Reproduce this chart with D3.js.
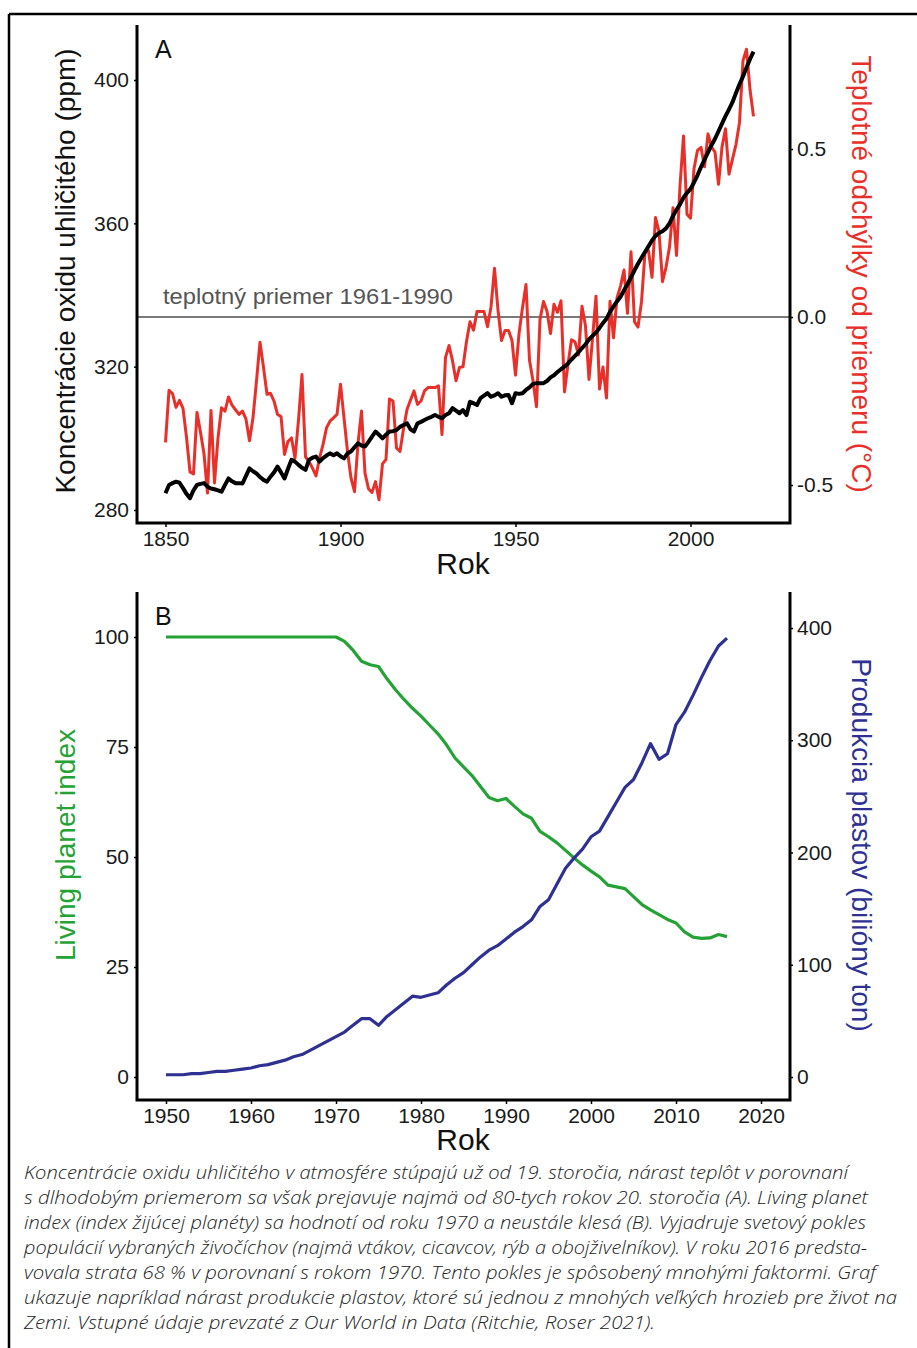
<!DOCTYPE html>
<html><head><meta charset="utf-8">
<script src="https://cdn.jsdelivr.net/npm/d3@7"></script>
<style>body{margin:0;background:#fff}svg{display:block}</style>
</head><body>
<svg id="c" width="917" height="1348"></svg>
<script>
// ---------- DATA ----------
const tempStartYear = 1850;
const tempAnomaly = [
-0.373,-0.218,-0.228,-0.269,-0.248,-0.272,-0.358,-0.461,-0.467,-0.284,
-0.343,-0.407,-0.524,-0.278,-0.494,-0.36,-0.27,-0.28,-0.238,-0.262,
-0.276,-0.29,-0.28,-0.304,-0.368,-0.30,-0.19,-0.075,-0.15,-0.230,
-0.227,-0.25,-0.29,-0.296,-0.409,-0.37,-0.36,-0.42,-0.307,-0.171,
-0.416,-0.43,-0.45,-0.473,-0.42,-0.38,-0.33,-0.31,-0.30,-0.29,
-0.20,-0.30,-0.40,-0.479,-0.520,-0.377,-0.28,-0.465,-0.511,-0.522,
-0.490,-0.544,-0.437,-0.424,-0.244,-0.25,-0.39,-0.40,-0.333,-0.275,
-0.247,-0.22,-0.26,-0.25,-0.22,-0.21,-0.21,-0.21,-0.205,-0.350,
-0.12,-0.085,-0.13,-0.19,-0.15,-0.148,-0.073,-0.014,-0.039,0.016,
0.016,0.016,-0.029,0.03,0.145,0.02,-0.07,-0.04,-0.04,-0.07,
-0.173,-0.05,0.028,0.097,-0.129,-0.190,-0.267,-0.007,0.046,0.017,
-0.049,0.038,0.014,0.048,-0.223,-0.140,-0.068,-0.074,-0.113,0.032,
-0.027,-0.186,-0.065,0.062,-0.214,-0.149,-0.241,0.047,-0.062,0.057,
0.092,0.140,0.011,0.194,-0.014,-0.030,0.045,0.192,0.198,0.118,
0.296,0.254,0.105,0.148,0.208,0.325,0.183,0.390,0.539,0.306,
0.294,0.441,0.496,0.505,0.447,0.545,0.506,0.491,0.395,0.506,
0.560,0.425,0.470,0.514,0.579,0.763,0.797,0.677,0.597
];
const co2StartYear = 1850;
const co2Ppm = [
284.7,287.0,287.5,287.9,287.6,286.1,284.5,283.3,285.5,287.0,
287.3,287.5,286.5,286.0,285.8,285.5,285.1,287.0,288.8,288.0,
287.5,287.5,287.4,289.5,291.6,290.8,290.2,289.2,288.4,287.9,
289.3,290.5,292.1,290.5,288.8,291.5,294.0,293.5,292.6,291.8,
291.2,294.0,294.6,294.9,293.5,294.5,295.2,295.8,295.3,295.8,
295.0,294.4,295.8,296.3,297.5,298.6,298.0,297.7,299.0,300.5,
301.9,301.0,300.0,301.0,301.9,302.0,302.3,303.2,303.7,304.2,
302.5,301.9,304.2,304.6,305.1,305.6,306.0,306.5,306.0,305.6,
306.5,307.0,308.4,307.7,307.0,307.9,306.5,310.2,309.8,309.3,
311.2,311.9,312.6,311.6,312.0,312.6,311.6,312.0,312.1,309.8,
312.6,312.4,312.6,313.5,314.2,315.2,315.4,315.4,315.4,316.0,
317.0,317.6,318.5,319.3,320.0,320.9,322.0,323.0,324.0,325.2,
326.2,327.6,328.6,329.5,330.8,332.2,333.4,335.3,336.8,338.2,
339.5,341.3,343.0,344.9,346.9,348.7,350.4,352.0,353.6,355.2,
356.5,357.3,357.8,358.6,360.0,362.0,363.8,365.3,367.2,368.5,
369.6,371.4,373.4,375.7,377.8,379.8,381.8,383.6,385.7,387.8,
389.9,391.8,393.8,396.4,398.8,401.0,403.5,405.8,407.9
];
const lpiStartYear = 1950;
const livingPlanetIndex = [
100,100,100,100,100,100,100,100,100,100,
100,100,100,100,100,100,100,100,100,100,
100,99.0,97.0,94.5,93.7,93.3,90.5,88.0,85.8,83.8,
82.0,80.0,78.0,75.5,72.5,70.5,68.5,66.0,63.5,62.8,
63.3,61.5,59.8,58.8,55.8,54.6,53.2,51.5,49.8,48.2,
46.8,45.5,43.6,43.2,42.8,41.0,39.2,38.0,36.9,35.8,
35.0,33.0,31.8,31.5,31.6,32.4,31.9
];
const plasticStartYear = 1950;
const plasticProduction = [
2,2,2,3,3,4,5,5,6,7,
8,10,11,13,15,18,20,24,28,32,
36,40,46,52,52,46,54,60,66,72,
71,73,75,82,88,93,100,107,113,117,
123,129,134,140,152,158,172,186,195,203,
214,219,232,245,258,265,280,297,283,288,
314,325,340,356,371,384,391
];
const xTicksA = [1850,1900,1950,2000];
const co2Ticks = [280,320,360,400];
const tempTicks = [-0.5,0.0,0.5];
const xTicksB = [1950,1960,1970,1980,1990,2000,2010,2020];
const lpiTicks = [0,25,50,75,100];
const plasticTicks = [0,100,200,300,400];
const caption = [
"Koncentrácie oxidu uhličitého v atmosfére stúpajú už od 19. storočia, nárast teplôt v porovnaní",
"s dlhodobým priemerom sa však prejavuje najmä od 80-tych rokov 20. storočia (A). Living planet",
"index (index žijúcej planéty) sa hodnotí od roku 1970 a neustále klesá (B). Vyjadruje svetový pokles",
"populácií vybraných živočíchov (najmä vtákov, cicavcov, rýb a obojživelníkov). V roku 2016 predsta-",
"vovala strata 68 % v porovnaní s rokom 1970. Tento pokles je spôsobený mnohými faktormi. Graf",
"ukazuje napríklad nárast produkcie plastov, ktoré sú jednou z mnohých veľkých hrozieb pre život na",
"Zemi. Vstupné údaje prevzaté z Our World in Data (Ritchie, Roser 2021)."
];
const captionLineEnds = [848,868,866,867,876,897,655];

// ---------- DRAW ----------
const svg = d3.select("#c");
const FONT = "'Liberation Sans', Arial, Helvetica, sans-serif";
const RED = "#e8302a", GREEN = "#25a235", BLUE = "#2e3192";

// outer frame
svg.append("line").attr("x1",9).attr("x2",917).attr("y1",14).attr("y2",14).attr("stroke","#000").attr("stroke-width",2.5);
svg.append("line").attr("x1",9).attr("x2",9).attr("y1",14).attr("y2",1348).attr("stroke","#000").attr("stroke-width",2.5);

function frame(g, left, right, top, bottom) {
  g.append("path")
    .attr("d", `M${left},${top}V${bottom}H${right}V${top}`)
    .attr("fill","none").attr("stroke","#000").attr("stroke-width",3);
}
function styleAxis(sel, size) {
  sel.select(".domain").remove();
  sel.selectAll(".tick line").attr("stroke","#000").attr("stroke-width",1.5);
  sel.selectAll(".tick text").attr("font-family",FONT).attr("font-size",size).attr("fill","#1a1a1a");
}

// ===== Panel A =====
const A = {left:137, right:790, top:25, bottom:523};
const xA = d3.scaleLinear().domain([1850,2000]).range([165.5,690.5]);
const yCO2 = d3.scaleLinear().domain([280,400]).range([510,80]);
const yT = d3.scaleLinear().domain([-0.5,0.5]).range([485,149]);
const gA = svg.append("g");

gA.append("line").attr("x1",A.left).attr("x2",A.right).attr("y1",yT(0)).attr("y2",yT(0))
  .attr("stroke","#7a7a7a").attr("stroke-width",2);
gA.append("text").attr("x",163).attr("y",yT(0)-13).text("teplotný priemer 1961-1990")
  .attr("font-family",FONT).attr("font-size",22).attr("fill","#555")
  .attr("textLength",290).attr("lengthAdjust","spacingAndGlyphs");

const tempData = tempAnomaly.map((v,i)=>({x:tempStartYear+i,y:v}));
const co2Data = co2Ppm.map((v,i)=>({x:co2StartYear+i,y:v}));
gA.append("path").datum(tempData)
  .attr("d", d3.line().x(d=>xA(d.x)).y(d=>yT(d.y)))
  .attr("fill","none").attr("stroke",RED).attr("stroke-width",3).attr("stroke-linejoin","round");
gA.append("path").datum(co2Data)
  .attr("d", d3.line().x(d=>xA(d.x)).y(d=>yCO2(d.y)))
  .attr("fill","none").attr("stroke","#000").attr("stroke-width",4).attr("stroke-linejoin","round");

frame(gA, A.left, A.right, A.top, A.bottom);
gA.append("g").attr("transform",`translate(0,${A.bottom})`)
  .call(d3.axisBottom(xA).tickValues(xTicksA).tickFormat(d3.format("d")).tickSize(4).tickPadding(4))
  .call(s=>styleAxis(s,21));
gA.append("g").attr("transform",`translate(${A.left},0)`)
  .call(d3.axisLeft(yCO2).tickValues(co2Ticks).tickSize(3).tickPadding(5))
  .call(s=>styleAxis(s,21));
gA.append("g").attr("transform",`translate(${A.right},0)`)
  .call(d3.axisRight(yT).tickValues(tempTicks).tickFormat(d3.format(".1f")).tickSize(3).tickPadding(4))
  .call(s=>styleAxis(s,21));
gA.selectAll("text").filter(function(){return this.textContent.startsWith("−");}).text(function(){return this.textContent.replace("−","-");});

gA.append("text").attr("x",155).attr("y",58).text("A").attr("font-family",FONT).attr("font-size",25).attr("fill","#111");
gA.append("text").attr("x",463).attr("y",574).attr("text-anchor","middle").text("Rok")
  .attr("font-family",FONT).attr("font-size",30).attr("fill","#111");
gA.append("text").attr("transform","translate(75,271) rotate(-90)").attr("text-anchor","middle")
  .text("Koncentrácie oxidu uhličitého (ppm)").attr("font-family",FONT).attr("font-size",28).attr("fill","#111");
gA.append("text").attr("transform","translate(852,274) rotate(90)").attr("text-anchor","middle")
  .text("Teplotné odchýlky od priemeru (°C)").attr("font-family",FONT).attr("font-size",28).attr("fill",RED);

// ===== Panel B =====
const B = {left:137, right:790, top:592, bottom:1100};
const xB = d3.scaleLinear().domain([1950,2020]).range([166,761]);
const yL = d3.scaleLinear().domain([0,100]).range([1077,637]);
const yP = d3.scaleLinear().domain([0,400]).range([1077,628]);
const gB = svg.append("g");

const lpiData = livingPlanetIndex.map((v,i)=>({x:lpiStartYear+i,y:v}));
const plData = plasticProduction.map((v,i)=>({x:plasticStartYear+i,y:v}));
gB.append("path").datum(lpiData)
  .attr("d", d3.line().x(d=>xB(d.x)).y(d=>yL(d.y)))
  .attr("fill","none").attr("stroke",GREEN).attr("stroke-width",3.2).attr("stroke-linejoin","round");
gB.append("path").datum(plData)
  .attr("d", d3.line().x(d=>xB(d.x)).y(d=>yP(d.y)))
  .attr("fill","none").attr("stroke",BLUE).attr("stroke-width",3.2).attr("stroke-linejoin","round");

frame(gB, B.left, B.right, B.top, B.bottom);
gB.append("g").attr("transform",`translate(0,${B.bottom})`)
  .call(d3.axisBottom(xB).tickValues(xTicksB).tickFormat(d3.format("d")).tickSize(4).tickPadding(4))
  .call(s=>styleAxis(s,21));
gB.append("g").attr("transform",`translate(${B.left},0)`)
  .call(d3.axisLeft(yL).tickValues(lpiTicks).tickSize(3).tickPadding(5))
  .call(s=>styleAxis(s,21));
gB.append("g").attr("transform",`translate(${B.right},0)`)
  .call(d3.axisRight(yP).tickValues(plasticTicks).tickSize(3).tickPadding(4))
  .call(s=>styleAxis(s,21));

gB.append("text").attr("x",155).attr("y",625).text("B").attr("font-family",FONT).attr("font-size",25).attr("fill","#111");
gB.append("text").attr("x",463).attr("y",1150).attr("text-anchor","middle").text("Rok")
  .attr("font-family",FONT).attr("font-size",30).attr("fill","#111");
gB.append("text").attr("transform","translate(75,845) rotate(-90)").attr("text-anchor","middle")
  .text("Living planet index").attr("font-family",FONT).attr("font-size",28).attr("fill",GREEN);
gB.append("text").attr("transform","translate(852,845) rotate(90)").attr("text-anchor","middle")
  .text("Produkcia plastov (bilióny ton)").attr("font-family",FONT).attr("font-size",28).attr("fill",BLUE);

// ===== Caption =====
const gC = svg.append("g");
caption.forEach((line,i)=>{
  gC.append("text").attr("x",24).attr("y",1179+i*25).text(line)
    .attr("font-family","'Open Sans', 'Noto Sans', sans-serif").attr("font-style","italic").attr("font-weight",300)
    .attr("font-size",18).attr("fill","#222")
    .attr("textLength",captionLineEnds[i]-24).attr("lengthAdjust","spacingAndGlyphs");
});
</script>
</body></html>
